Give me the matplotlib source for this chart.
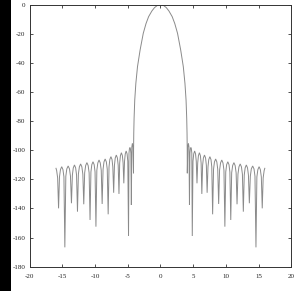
import matplotlib
matplotlib.use("Agg")
import matplotlib.pyplot as plt
from matplotlib.patches import Rectangle

# Beam pattern (dB), left half then right half
x_left = [-15.95, -15.85, -15.70, -15.56,
          -15.42, -15.27, -15.08, -14.89, -14.74, -14.60,
          -14.45, -14.30, -14.095, -13.89, -13.74, -13.59,
          -13.45, -13.31, -13.13, -12.95, -12.81, -12.67,
          -12.53, -12.38, -12.19, -12.00, -11.85, -11.71,
          -11.57, -11.42, -11.23, -11.04, -10.89, -10.75,
          -10.615, -10.48, -10.30, -10.12, -9.985, -9.85,
          -9.71, -9.56, -9.375, -9.19, -9.04, -8.90,
          -8.76, -8.62, -8.44, -8.26, -8.12, -7.98,
          -7.85, -7.73, -7.56, -7.39, -7.27, -7.14,
          -7.02, -6.90, -6.735, -6.57, -6.45, -6.33,
          -6.22, -6.11, -5.96, -5.81, -5.70, -5.59,
          -5.48, -5.37, -5.23, -5.09, -4.98, -4.87,
          -4.80, -4.73, -4.655, -4.58, -4.51, -4.44,
          -4.37, -4.28, -4.19, -4.11,
          -4.10, -4.07, -4.02, -3.92, -3.75, -3.50, -3.10, -2.62,
          -2.20, -1.80, -1.30, -0.90, -0.50]
db_left = [-112.4, -114.0, -119.0, -139.9,
           -118.3, -113.3, -111.3, -113.3, -118.3, -166.7,
           -117.8, -112.8, -110.8, -112.8, -117.8, -136.4,
           -117.1, -112.1, -110.1, -112.1, -117.1, -142.2,
           -116.4, -111.4, -109.4, -111.4, -116.4, -137.1,
           -115.5, -110.5, -108.5, -110.5, -115.5, -147.9,
           -114.9, -109.9, -107.9, -109.9, -114.9, -152.5,
           -113.7, -108.7, -106.7, -108.7, -113.7, -136.9,
           -113.0, -108.0, -106.0, -108.0, -113.0, -144.0,
           -111.4, -106.4, -104.4, -106.4, -111.4, -129.2,
           -110.3, -105.3, -103.3, -105.3, -110.3, -130.0,
           -108.7, -103.7, -101.7, -103.7, -108.7, -122.7,
           -107.5, -102.5, -100.5, -102.5, -107.5, -158.9,
           -102.0, -99.0, -98.0, -99.0, -102.0, -137.6,
           -98.0, -95.2, -98.0, -115.8,
           -100.0, -88.3, -78.0, -65.5, -54.0, -42.6, -31.1, -19.7,
           -13.0, -8.2, -4.3, -2.0, -0.6]
x_center = [0.0]
db_center = [0.0]
x_right = [0.50, 0.90, 1.30, 1.80, 2.20,
           2.62, 3.10, 3.50, 3.75, 3.92, 4.02, 4.07, 4.10,
           4.11, 4.19, 4.28, 4.37,
           4.44, 4.51, 4.58, 4.655, 4.73, 4.80,
           4.87, 4.98, 5.09, 5.23, 5.37, 5.48,
           5.59, 5.70, 5.81, 5.96, 6.11, 6.22,
           6.33, 6.45, 6.57, 6.735, 6.90, 7.02,
           7.14, 7.27, 7.39, 7.56, 7.73, 7.85,
           7.98, 8.12, 8.26, 8.44, 8.62, 8.76,
           8.90, 9.04, 9.19, 9.375, 9.56, 9.71,
           9.85, 9.985, 10.12, 10.30, 10.48, 10.615,
           10.75, 10.89, 11.04, 11.23, 11.42, 11.57,
           11.71, 11.85, 12.00, 12.19, 12.38, 12.53,
           12.67, 12.81, 12.95, 13.13, 13.31, 13.45,
           13.59, 13.74, 13.89, 14.095, 14.30, 14.45,
           14.60, 14.74, 14.89, 15.08, 15.27, 15.42,
           15.56, 15.70, 15.85, 15.95]
db_right = [-0.6, -2.0, -4.3, -8.2, -13.0,
            -19.7, -31.1, -42.6, -54.0, -65.5, -78.0, -88.3, -100.0,
            -115.8, -98.0, -95.2, -98.0,
            -137.6, -102.0, -99.0, -98.0, -99.0, -102.0,
            -158.9, -107.5, -102.5, -100.5, -102.5, -107.5,
            -122.7, -108.7, -103.7, -101.7, -103.7, -108.7,
            -130.0, -110.3, -105.3, -103.3, -105.3, -110.3,
            -129.2, -111.4, -106.4, -104.4, -106.4, -111.4,
            -144.0, -113.0, -108.0, -106.0, -108.0, -113.0,
            -136.9, -113.7, -108.7, -106.7, -108.7, -113.7,
            -152.5, -114.9, -109.9, -107.9, -109.9, -114.9,
            -147.9, -115.5, -110.5, -108.5, -110.5, -115.5,
            -137.1, -116.4, -111.4, -109.4, -111.4, -116.4,
            -142.2, -117.1, -112.1, -110.1, -112.1, -117.1,
            -136.4, -117.8, -112.8, -110.8, -112.8, -117.8,
            -166.7, -118.3, -113.3, -111.3, -113.3, -118.3,
            -139.9, -119.0, -114.0, -112.4]

x_ticks = [-20, -15, -10, -5, 0, 5, 10, 15, 20]
y_ticks = [0, -20, -40, -60, -80, -100, -120, -140, -160, -180]

fig = plt.figure(figsize=(3.02, 2.91), dpi=100)
fig.patch.set_facecolor("white")
fig.patches.append(Rectangle((0, 0), 11 / 302, 1, transform=fig.transFigure,
                             facecolor="black", edgecolor="none", zorder=0))

ax = fig.add_axes([29.5 / 302, 1 - 266.7 / 291, (291.3 - 29.5) / 302, (266.7 - 4.7) / 291])
ax.plot(x_left + x_center + x_right, db_left + db_center + db_right,
        color="#8a8a8a", lw=0.7, solid_joinstyle="miter")

ax.set_xlim(-20, 20)
ax.set_ylim(-180, 0)
ax.set_xticks(x_ticks)
ax.set_yticks(y_ticks)
ax.set_xticklabels([str(v) for v in x_ticks])
ax.set_yticklabels([str(v) for v in y_ticks])
ax.tick_params(direction="in", length=2.2, width=0.6, top=True, right=True,
               labelsize=5, color="#333333", labelcolor="#222222", pad=3)
ax.tick_params(axis="x", pad=5)
for lab in ax.get_xticklabels() + ax.get_yticklabels():
    lab.set_family("Liberation Serif")
for s in ax.spines.values():
    s.set_linewidth(0.7)
    s.set_color("#333333")

fig.savefig("out.png", dpi=100)
